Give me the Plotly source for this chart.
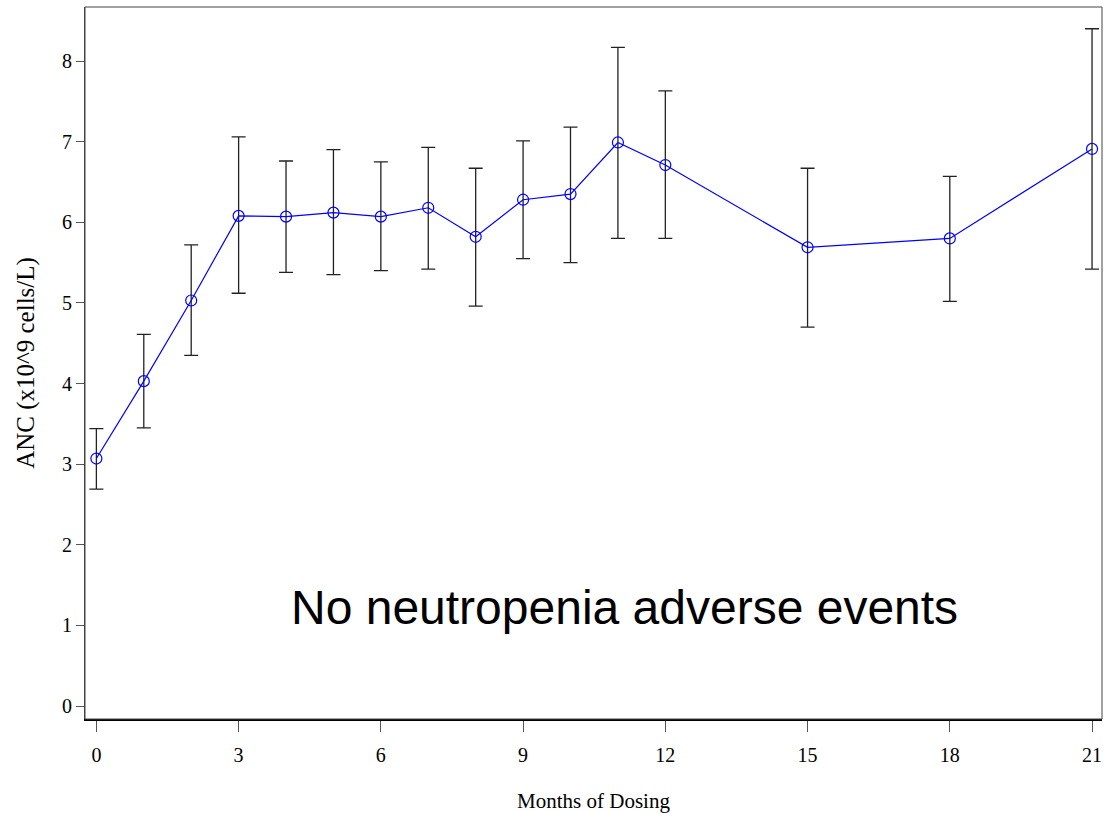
import plotly.graph_objects as go

months = [0, 1, 2, 3, 4, 5, 6, 7, 8, 9, 10, 11, 12, 15, 18, 21]
anc_mean = [3.07, 4.03, 5.03, 6.08, 6.07, 6.12, 6.07, 6.18, 5.82, 6.28, 6.35, 6.99, 6.71, 5.69, 5.80, 6.91]
anc_upper = [3.44, 4.61, 5.72, 7.06, 6.76, 6.90, 6.75, 6.93, 6.67, 7.01, 7.18, 8.17, 7.63, 6.67, 6.57, 8.40]
anc_lower = [2.69, 3.45, 4.35, 5.12, 5.38, 5.35, 5.40, 5.42, 4.96, 5.55, 5.50, 5.80, 5.80, 4.70, 5.02, 5.42]
x_ticks = [0, 3, 6, 9, 12, 15, 18, 21]
y_ticks = [0, 1, 2, 3, 4, 5, 6, 7, 8]

err_plus = [u - m for u, m in zip(anc_upper, anc_mean)]
err_minus = [m - l for m, l in zip(anc_mean, anc_lower)]

serif = "Liberation Serif, Times New Roman, serif"

fig = go.Figure()
fig.add_trace(go.Scatter(
    x=months, y=anc_mean, mode="lines+markers",
    line=dict(color="#0000ff", width=1.2),
    marker=dict(symbol="circle-open", size=11, color="#0000ff", line=dict(width=1.2)),
    error_y=dict(type="data", symmetric=False, array=err_plus, arrayminus=err_minus,
                 color="#222222", thickness=1.3, width=7),
    showlegend=False,
))

fig.add_annotation(
    text="No neutropenia adverse events", xref="paper", yref="paper",
    x=0.530, y=0.157, showarrow=False, xanchor="center", yanchor="middle",
    font=dict(family="Liberation Sans, Arial, sans-serif", size=48, color="black"),
)

# frame
fig.add_shape(type="rect", xref="paper", yref="paper", x0=0, y0=0, x1=1, y1=1,
              line=dict(color="#444444", width=1))

fig.update_layout(
    width=1104, height=813,
    margin=dict(l=85, r=2, t=7, b=94),
    plot_bgcolor="white", paper_bgcolor="white",
    font=dict(family=serif, color="black"),
)
fig.update_xaxes(
    range=[-0.24, 21.21], tickvals=x_ticks, ticktext=[str(v) for v in x_ticks],
    showgrid=False, zeroline=False, showline=True, linecolor="black", linewidth=2,
    ticks="outside", ticklen=11, tickcolor="#555555", tickwidth=1,
    tickfont=dict(family=serif, size=20), ticklabelstandoff=6,
    title=dict(text="Months of Dosing", font=dict(family=serif, size=21), standoff=30),
)
fig.update_yaxes(
    range=[-0.16, 8.67], tickvals=y_ticks, ticktext=[str(v) for v in y_ticks],
    showgrid=False, zeroline=False, showline=True, linecolor="#444444", linewidth=1,
    ticks="outside", ticklen=8, tickcolor="#555555", tickwidth=1,
    tickfont=dict(family=serif, size=20),
    title=dict(text="ANC (x10^9 cells/L)", font=dict(family=serif, size=25), standoff=20),
)

fig.write_html("out.html", config={"displayModeBar": False},
               post_script="document.body.style.margin='0';document.body.style.overflow='hidden';")
